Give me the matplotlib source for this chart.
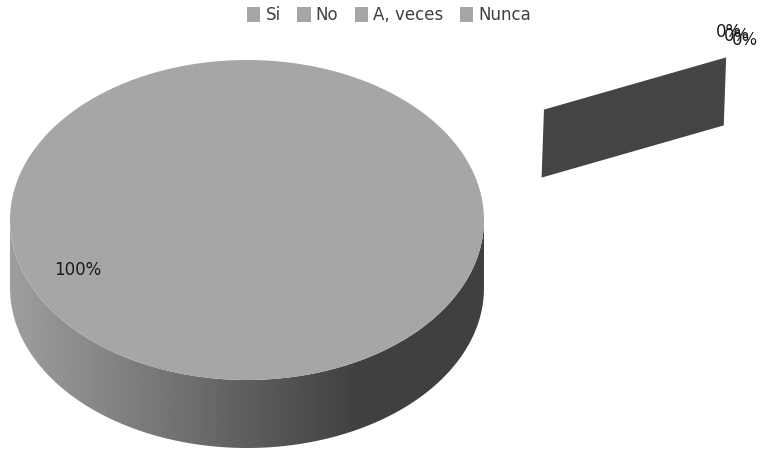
import numpy as np
import matplotlib

matplotlib.use("Agg")
import matplotlib.pyplot as plt
from matplotlib.path import Path
from matplotlib.patches import PathPatch, Polygon

categories = ["Si", "No", "A, veces", "Nunca"]
values = [100, 0, 0, 0]
top_color = "#a6a6a6"
text_color = "#404040"
narrow = ["Liberation Sans Narrow", "DejaVu Sans"]

fig = plt.figure(figsize=(7.63, 4.53), dpi=100)
ax = fig.add_axes([0, 0, 1, 1])

# top face of the 3D pie (drawn as a squashed circle)
wedges, _ = ax.pie(values, colors=[top_color] * len(values), startangle=90,
                   counterclock=False, wedgeprops=dict(linewidth=0, zorder=3))
ax.set_aspect("auto")
ax.set_xlim(-247 / 237, (763 - 247) / 237)
ax.set_ylim((220 - 453) / 160, 220 / 160)
ax.axis("off")

# side wall with horizontal shading
depth = 0.425
t = np.linspace(np.pi, 2 * np.pi, 200)
upper = np.column_stack([np.cos(t), np.sin(t)])
lower = np.column_stack([np.cos(t[::-1]), np.sin(t[::-1]) - depth])
side = np.vstack([upper, lower, upper[:1]])
side_patch = PathPatch(Path(side), facecolor="none", edgecolor="none")
ax.add_patch(side_patch)
grad = np.linspace(0, 1, 256)
shade = np.clip(0.62 - 0.40 * grad / 0.8, 0.25, 1)
img = ax.imshow(np.tile(shade, (2, 1)), cmap="gray", vmin=0, vmax=1,
                extent=[-1, 1, -1 - depth, 0], aspect="auto", zorder=2,
                interpolation="bilinear")
img.set_clip_path(side_patch)

# exploded zero slices: a thin dark wall off to the upper right
ang = np.deg2rad(23)
x0, y0 = 1.253, 0.69
r = 0.835
p_in, p_out = (x0, y0), (x0 + r * np.cos(ang), y0 + r * np.sin(ang))
wall = [(p_in[0], p_in[1]), (p_out[0], p_out[1]),
        (p_out[0] - 0.01, p_out[1] - depth), (p_in[0] - 0.01, p_in[1] - depth)]
ax.add_patch(Polygon(wall, closed=True, facecolor="#444444", edgecolor="none", zorder=3))

# data labels
ax.text(-0.713, -0.3125, f"{values[0]}%", fontsize=12, color="#1a1a1a",
        ha="center", va="center", family=narrow, zorder=5)
for i, v in enumerate(values[1:]):
    ax.text(p_out[0] + 0.01 + 0.035 * i, p_out[1] + 0.16 - 0.025 * i, f"{v}%",
            fontsize=12, color="#1a1a1a", ha="center", va="center",
            family=narrow, zorder=5)

leg = ax.legend(wedges, categories, loc="upper center", bbox_to_anchor=(0.51, 1.02),
                ncol=4, frameon=False, handlelength=0.8, handleheight=1.0,
                handletextpad=0.3, columnspacing=1.0, prop=dict(family=narrow, size=12))
for txt in leg.get_texts():
    txt.set_color(text_color)

fig.savefig("out.png", dpi=100)
